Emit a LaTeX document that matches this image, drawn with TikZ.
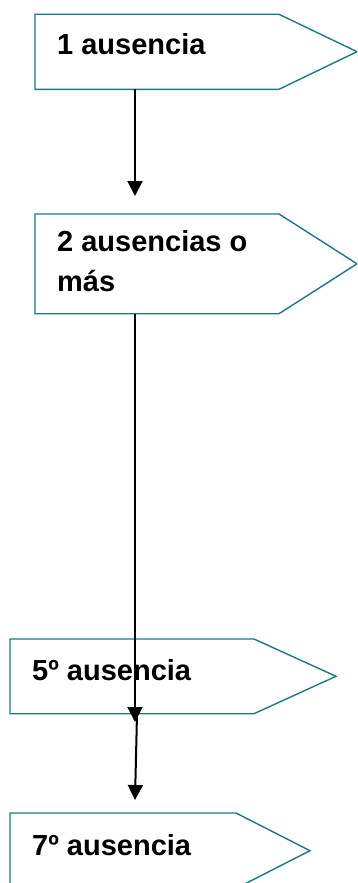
\documentclass[tikz,border=0pt]{standalone}
\usepackage{fontspec}
\setmainfont{Liberation Sans}
\usetikzlibrary{arrows.meta}
\definecolor{tealline}{RGB}{24,124,126}
\begin{document}
\begin{tikzpicture}[x=1pt,y=-1pt,
  box/.style={draw=tealline,line width=1.4pt,fill=white,line join=miter},
  lbl/.style={anchor=base west,inner sep=0pt,align=left,font=\fontsize{29}{40}\selectfont\bfseries},
  conn/.style={draw=black,line width=2pt,-{Triangle[length=15pt,width=15pt]}}]
\useasboundingbox (0,0) rectangle (357,883);
\clip (0,0) rectangle (357,883);
% boxes
\draw[box] (35,14.3) -- (279,14.3) -- (357,51.7) -- (279,89.3) -- (35,89.3) -- cycle;
\node[lbl] (t1) at (57,55) {1 ausencia};
\draw[box] (35,214) -- (279,214) -- (357,263.8) -- (279,313.7) -- (35,313.7) -- cycle;
\node[lbl] (t2) at (57,291) {2 ausencias o\\más};
\draw[box] (10,639) -- (254,639) -- (336,676.3) -- (254,713.7) -- (10,713.7) -- cycle;
\node[lbl] (t3) at (32,680) {5º ausencia};
\draw[box] (10,813) -- (236,813) -- (310,850.7) -- (236,888.4) -- (10,888.4) -- cycle;
\node[lbl] (t4) at (32,855) {7º ausencia};
% connector end points
\coordinate (b1s) at (135,89.3);
\coordinate (a1e) at (135,196);
\coordinate (b2s) at (135,313.7);
\coordinate (a2e) at (135,722);
\coordinate (b3s) at (137,714);
\coordinate (a3e) at (135,800);
\draw[conn] (b1s) -- (a1e);
\draw[conn] (b2s) -- (a2e);
\draw[conn] (b3s) -- (a3e);
\end{tikzpicture}
\end{document}
